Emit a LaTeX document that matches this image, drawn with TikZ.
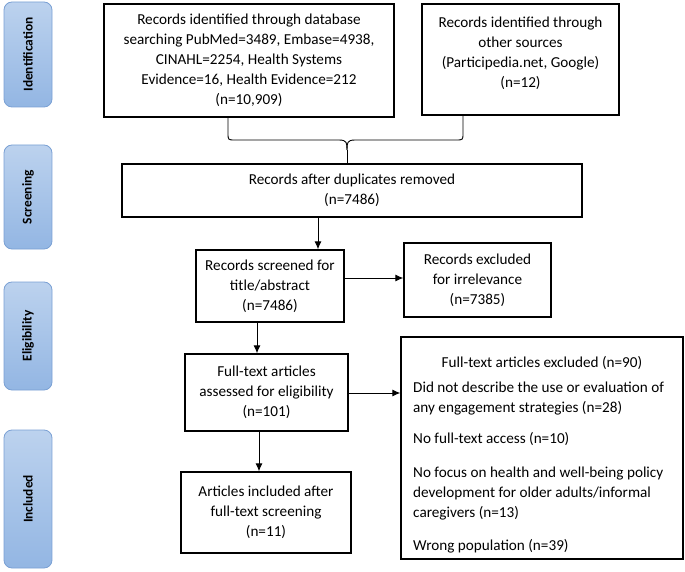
\documentclass[tikz,border=0pt]{standalone}
\usepackage{fontspec}
\setmainfont{Carlito}
\usetikzlibrary{arrows.meta}
\tikzset{
  box/.style={draw=black, line width=1.4pt, align=center, inner sep=0pt,
    font=\fontsize{15.2}{20}\selectfont},
  stage/.style={draw=stageborder, line width=0.8pt, rounded corners=8pt,
    top color=stagetop, bottom color=stagebot, inner sep=0pt},
  stagetext/.style={rotate=90, font=\fontsize{13.4}{16}\selectfont\bfseries, text=black},
  arr/.style={line width=0.9pt, -{Latex[length=8pt,width=7pt]}},
  brace/.style={line width=0.9pt},
  txt/.style={inner sep=0pt, font=\fontsize{15.2}{20}\selectfont}
}
\definecolor{stagetop}{HTML}{BCD2EE}
\definecolor{stagebot}{HTML}{93B6E3}
\definecolor{stageborder}{HTML}{7AA0D4}
\begin{document}
\begin{tikzpicture}[x=1pt,y=-1pt]
\useasboundingbox (0,0) rectangle (685,572);
% stage labels
\node[stage, minimum width=48pt, minimum height=105pt] (sid) at (28,54.5) {};
\node[stagetext] (tid) at (sid.center) {Identification};
\node[stage, minimum width=48pt, minimum height=104pt] (ssc) at (28,197) {};
\node[stagetext] (tsc) at (ssc.center) {Screening};
\node[stage, minimum width=48pt, minimum height=108pt] (sel) at (28,336) {};
\node[stagetext] (tel) at (sel.center) {Eligibility};
\node[stage, minimum width=48pt, minimum height=138pt] (sin) at (28,499) {};
\node[stagetext] (tin) at (sin.center) {Included};
% boxes
\node[box, minimum width=290pt, minimum height=113pt] (db) at (249,60.5)
  {Records identified through database\\searching PubMed=3489, Embase=4938,\\CINAHL=2254, Health Systems\\Evidence=16, Health Evidence=212\\(n=10,909)};
\node[box, minimum width=197pt, minimum height=111pt] (oth) at (520.5,59.5) {};
\node[txt, align=center] (otht) at (520.5,53)
  {Records identified through\\other sources\\(Participedia.net, Google)\\(n=12)};
\node[box, minimum width=460pt, minimum height=53pt] (dup) at (352,190.5)
  {Records after duplicates removed\\(n=7486)};
\node[box, minimum width=148pt, minimum height=72pt] (scr) at (270,286)
  {Records screened for\\title/abstract\\(n=7486)};
\node[box, minimum width=147pt, minimum height=74pt] (irr) at (477.5,280)
  {Records excluded\\for irrelevance\\(n=7385)};
\node[box, minimum width=163pt, minimum height=77pt] (full) at (266.5,392.5)
  {Full-text articles\\assessed for eligibility\\(n=101)};
\node[box, minimum width=170pt, minimum height=81pt] (incl) at (266,512.5)
  {Articles included after\\full-text screening\\(n=11)};
\node[box, minimum width=282pt, minimum height=222pt] (ex) at (542,448) {};
\node[txt, anchor=base] (exh) at (542,367) {Full-text articles excluded (n=90)};
\node[txt, anchor=base west, align=left] (ex1) at (413,412)
  {Did not describe the use or evaluation of\\any engagement strategies (n=28)};
\node[txt, anchor=base west] (ex2) at (413,443) {No full-text access (n=10)};
\node[txt, anchor=base west, align=left] (ex3) at (413,517)
  {No focus on health and well-being policy\\development for older adults/informal\\caregivers (n=13)};
\node[txt, anchor=base west] (ex4) at (413,550) {Wrong population (n=39)};
% brace
\coordinate (bl) at (228,0);
\coordinate (br) at (463,0);
\coordinate (bm) at (347,150);
\draw[brace] (db.south -| bl) -- (228,133) .. controls (228,140) .. (235,140) -- (339,140)
  .. controls (347,140) and (347,143) .. (bm);
\draw[brace] (oth.south -| br) -- (463,133) .. controls (463,140) .. (456,140) -- (355,140)
  .. controls (347,140) and (347,143) .. (bm);
\draw[brace] (bm) -- (dup.north -| bm);
% arrows
\coordinate (a1) at (318,0);
\coordinate (a2) at (0,278);
\coordinate (a3) at (257,0);
\coordinate (a4) at (0,393);
\coordinate (a5) at (259,0);
\draw[arr] (dup.south -| a1) -- (scr.north -| a1);
\draw[arr] (scr.east |- a2) -- (irr.west |- a2);
\draw[arr] (scr.south -| a3) -- (full.north -| a3);
\draw[arr] (full.east |- a4) -- (ex.west |- a4);
\draw[arr] (full.south -| a5) -- (incl.north -| a5);
\end{tikzpicture}
\end{document}
